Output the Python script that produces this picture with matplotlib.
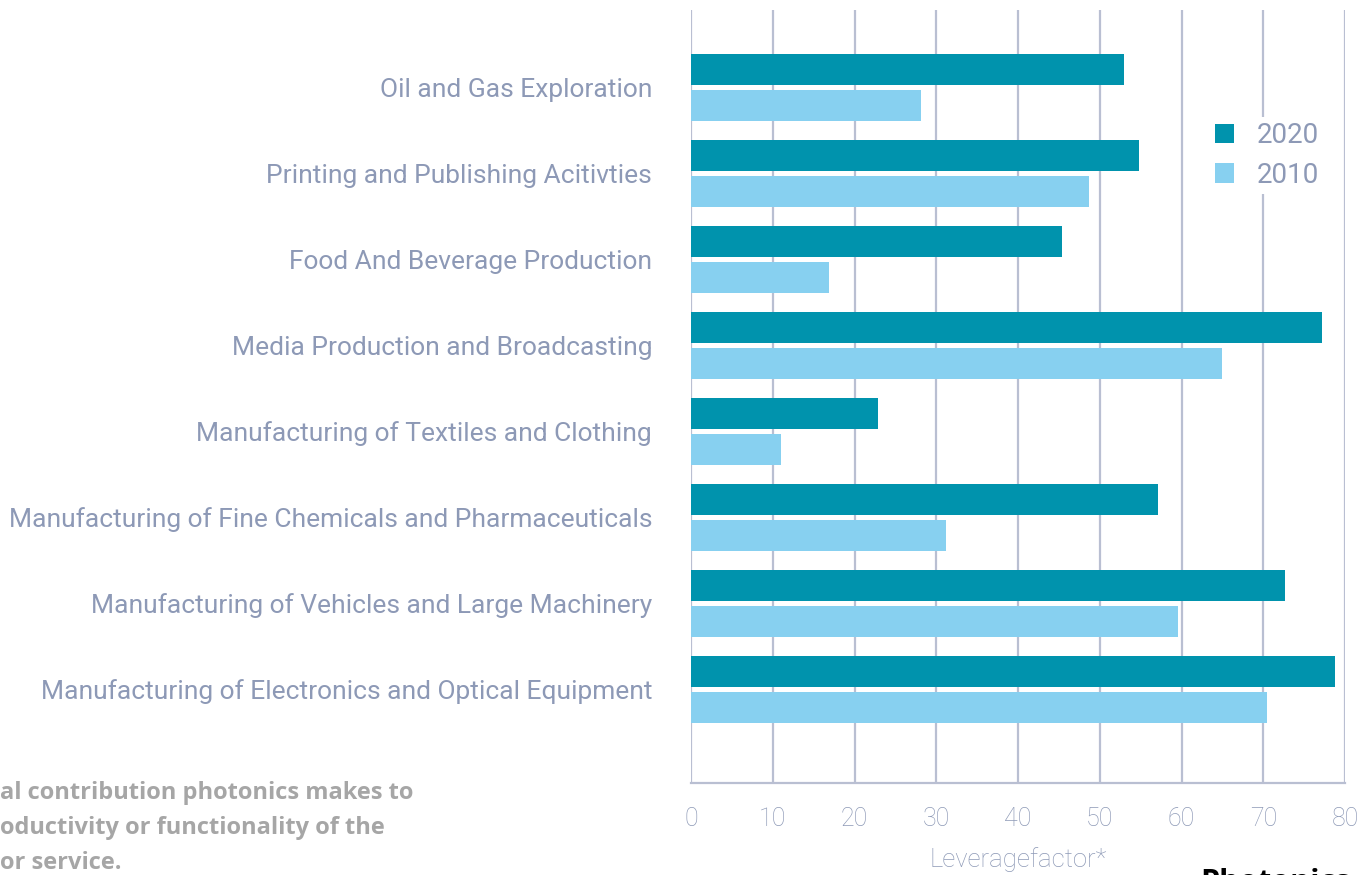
import numpy as np
import matplotlib.pyplot as plt

# Leverage factor per sector
sectors = [
    "Oil and Gas Exploration",
    "Printing and Publishing Acitivties",
    "Food And Beverage Production",
    "Media Production and Broadcasting",
    "Manufacturing of Textiles and Clothing",
    "Manufacturing of Fine Chemicals and Pharmaceuticals",
    "Manufacturing of Vehicles and Large Machinery",
    "Manufacturing of Electronics and Optical Equipment",
]
vals_2020 = [53.0, 54.8, 45.4, 77.2, 22.9, 57.1, 72.6, 78.8]
vals_2010 = [28.1, 48.7, 16.9, 64.9, 11.0, 31.2, 59.6, 70.4]
series_labels = ["2020", "2010"]
xticks = [0, 10, 20, 30, 40, 50, 60, 70, 80]

note_lines = ["al contribution photonics makes to",
              "oductivity or functionality of the",
              "or service."]

c2020 = "#0093ad"
c2010 = "#87d0f0"
txt = "#8d99b6"
grid_c = "#b9bfd2"
font = ["Roboto", "DejaVu Sans"]

W, H = 1362, 875
fig = plt.figure(figsize=(W / 100, H / 100), dpi=100)
ax = fig.add_axes([691 / W, 1 - 783 / H, (1345 - 691) / W, (783 - 10) / H])

y = np.arange(len(sectors))
h = 0.36
ax.barh(y - 0.21, vals_2020, height=h, color=c2020, label=series_labels[0], zorder=3)
ax.barh(y + 0.21, vals_2010, height=h, color=c2010, label=series_labels[1], zorder=3)

ax.set_xlim(0, 80)
ax.set_ylim(8.09, -0.9)
ax.set_xticks(xticks)
ax.set_xticklabels([str(t) for t in xticks], fontsize=18, color=txt,
                   family=font, fontweight="light")
ax.set_yticks(y)
ax.set_yticklabels(sectors, fontsize=19, color=txt, family=font)
ax.tick_params(axis="both", length=0)
ax.tick_params(axis="x", pad=17)
ax.tick_params(axis="y", pad=28)

ax.grid(axis="x", color=grid_c, linewidth=1.6, zorder=0)
for s in ["top", "right", "left"]:
    ax.spines[s].set_visible(False)
ax.spines["bottom"].set_color(grid_c)
ax.spines["bottom"].set_linewidth(1.6)

ax.set_xlabel("Leveragefactor*", fontsize=18.5, color=txt, family=font,
              fontweight="light", labelpad=12)

leg = ax.legend(loc="upper right", bbox_to_anchor=(0.99, 0.88), frameon=True,
                handlelength=0.7, handleheight=0.7,
                handletextpad=0.8, labelspacing=0.45, borderpad=0.2,
                prop={"family": font, "size": 20})
leg.get_frame().set_facecolor("white")
leg.get_frame().set_edgecolor("none")
leg.get_frame().set_alpha(1)
for t in leg.get_texts():
    t.set_color(txt)

for i, line in enumerate(note_lines):
    fig.text(0, 1 - (793 + 35 * i) / H, line, fontsize=17, fontweight="bold",
             color="#a6a6a6", family=["Open Sans", "DejaVu Sans"],
             ha="left", va="center")

fig.text(1200 / W, 1 - 868 / H, "Photonics", fontsize=22, fontweight="bold",
         color="black", family=["Open Sans", "DejaVu Sans"], ha="left", va="top")

fig.savefig("out.png", dpi=100)
